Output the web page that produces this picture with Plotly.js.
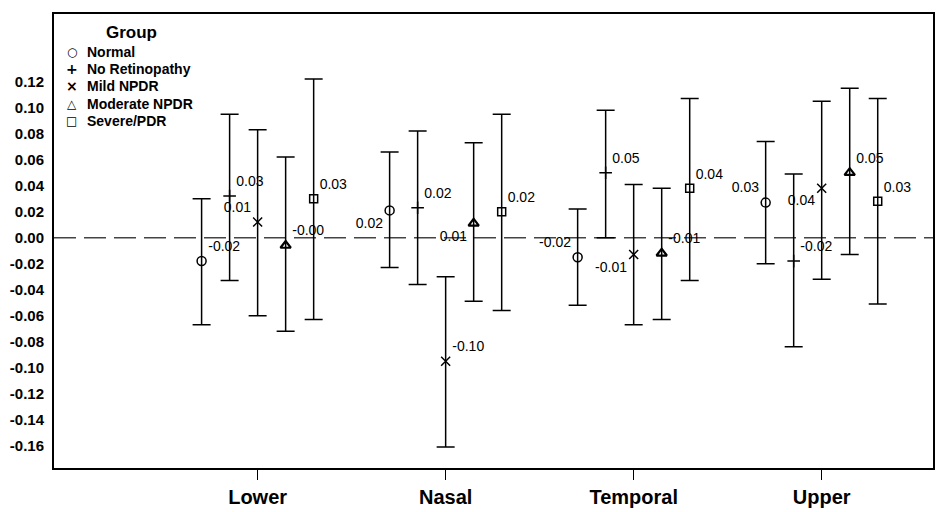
<!DOCTYPE html>
<html>
<head>
<meta charset="utf-8">
<script src="https://cdn.plot.ly/plotly-3.0.1.min.js"></script>
<style>html,body{margin:0;padding:0;background:#fff;}#chart{width:936px;height:512px;}</style>
</head>
<body>
<div id="chart"></div>
<script>
var categories = ["Lower", "Nasal", "Temporal", "Upper"];
var groupNames = ["Normal", "No Retinopathy", "Mild NPDR", "Moderate NPDR", "Severe/PDR"];
var legendTitle = "Group";
var legendGlyphs = ["○", "+", "×", "△", "□"];

var normal     = [-0.018, 0.021, -0.015, 0.027];
var normalLo   = [-0.067, -0.023, -0.052, -0.020];
var normalHi   = [0.030, 0.066, 0.022, 0.074];
var normalLbl  = ["-0.02", "0.02", "-0.02", "0.03"];

var noRet      = [0.032, 0.023, 0.050, -0.018];
var noRetLo    = [-0.033, -0.036, 0.000, -0.084];
var noRetHi    = [0.095, 0.082, 0.098, 0.049];
var noRetLbl   = ["0.03", "0.02", "0.05", "-0.02"];

var mild       = [0.012, -0.095, -0.013, 0.038];
var mildLo     = [-0.060, -0.161, -0.067, -0.032];
var mildHi     = [0.083, -0.030, 0.041, 0.105];
var mildLbl    = ["0.01", "-0.10", "-0.01", "0.04"];

var moderate   = [-0.006, 0.011, -0.012, 0.050];
var moderateLo = [-0.072, -0.049, -0.063, -0.013];
var moderateHi = [0.062, 0.073, 0.038, 0.115];
var moderateLbl= ["-0.00", "0.01", "-0.01", "0.05"];

var severe     = [0.030, 0.020, 0.038, 0.028];
var severeLo   = [-0.063, -0.056, -0.033, -0.051];
var severeHi   = [0.122, 0.095, 0.107, 0.107];
var severeLbl  = ["0.03", "0.02", "0.04", "0.03"];

var yTickVals = [0.12, 0.10, 0.08, 0.06, 0.04, 0.02, 0.00, -0.02, -0.04, -0.06, -0.08, -0.10, -0.12, -0.14, -0.16];
var yTickText = ["0.12", "0.10", "0.08", "0.06", "0.04", "0.02", "0.00", "-0.02", "-0.04", "-0.06", "-0.08", "-0.10", "-0.12", "-0.14", "-0.16"];

// styling (not data)
var symbols = ["circle-open", "cross-thin-open", "x-thin-open", "triangle-up-open", "square-open"];
var sizes = [9, 9, 9, 9, 8];
var lineW = [1.5, 1.5, 1.5, 2.2, 1.5];
var glyphSize = [12, 14, 14, 12, 12];
var labelPos = [
  ["top right", "bottom left", "top left", "top left"],
  ["top right", "top right", "top right", "top right"],
  ["top left", "top right", "bottom left", "bottom left"],
  ["top right", "bottom left", "top right", "top right"],
  ["top right", "top right", "top right", "top right"]
];

var series = [
  [normal, normalLo, normalHi, normalLbl],
  [noRet, noRetLo, noRetHi, noRetLbl],
  [mild, mildLo, mildHi, mildLbl],
  [moderate, moderateLo, moderateHi, moderateLbl],
  [severe, severeLo, severeHi, severeLbl]
];

var FONT = "Liberation Sans, Arial, sans-serif";

var traces = series.map(function (s, g) {
  var v = s[0], lo = s[1], hi = s[2];
  return {
    type: "scatter",
    mode: "markers+text",
    name: groupNames[g],
    x: categories,
    y: v,
    offsetgroup: String(g),
    text: s[3],
    textposition: labelPos[g],
    textfont: {family: FONT, size: 14, color: "#000"},
    marker: {symbol: symbols[g], size: sizes[g], color: "#000", line: {color: "#000", width: lineW[g]}},
    error_y: {
      type: "data", symmetric: false,
      array: v.map(function (d, i) { return hi[i] - d; }),
      arrayminus: v.map(function (d, i) { return d - lo[i]; }),
      color: "#000", thickness: 1.5, width: 9
    },
    hoverinfo: "x+y",
    showlegend: false
  };
});

// legend drawn as text annotations (paper coordinates)
var legTop = 0.917, legStep = 0.0383;
var annotations = [{
  xref: "paper", yref: "paper", x: 0.0876, y: 0.9597, xanchor: "center", yanchor: "middle",
  text: "<b>" + legendTitle + "</b>", showarrow: false,
  font: {family: FONT, size: 17, color: "#000"}
}];
groupNames.forEach(function (n, g) {
  var yy = legTop - g * legStep;
  annotations.push({
    xref: "paper", yref: "paper", x: 0.0201, y: yy, xanchor: "center", yanchor: "middle",
    text: "<b>" + legendGlyphs[g] + "</b>", showarrow: false,
    font: {family: "DejaVu Sans, sans-serif", size: glyphSize[g], color: "#000"}
  });
  annotations.push({
    xref: "paper", yref: "paper", x: 0.0358, y: yy, xanchor: "left", yanchor: "middle",
    text: "<b>" + n + "</b>", showarrow: false,
    font: {family: FONT, size: 14, color: "#000"}
  });
});

var layout = {
  width: 936, height: 512,
  margin: {l: 54, r: 3, t: 14, b: 44},
  paper_bgcolor: "#fff", plot_bgcolor: "#fff",
  font: {family: FONT, color: "#000"},
  scattermode: "group",
  scattergap: 0.255,
  showlegend: false,
  annotations: annotations,
  xaxis: {
    type: "category",
    range: [-1.083, 3.592],
    showgrid: false, zeroline: false,
    showline: true, linecolor: "#000", linewidth: 2, mirror: true,
    ticks: "outside", ticklen: 10, tickwidth: 1.5, tickcolor: "#000",
    tickfont: {family: FONT, size: 20, color: "#000", weight: "bold"}
  },
  yaxis: {
    range: [-0.1772, 0.1721],
    tickvals: yTickVals, ticktext: yTickText,
    showgrid: false, zeroline: false,
    showline: true, linecolor: "#000", linewidth: 2, mirror: true,
    ticks: "", ticklabelstandoff: 5,
    tickfont: {family: FONT, size: 15, color: "#000", weight: "bold"}
  },
  shapes: [{
    type: "line", xref: "paper", x0: 0, x1: 1, yref: "y", y0: 0, y1: 0,
    line: {color: "#444", width: 1.5, dash: "22px,8px"}, layer: "below"
  }]
};

Plotly.newPlot("chart", traces, layout, {displayModeBar: false, staticPlot: true});
</script>
</body>
</html>
